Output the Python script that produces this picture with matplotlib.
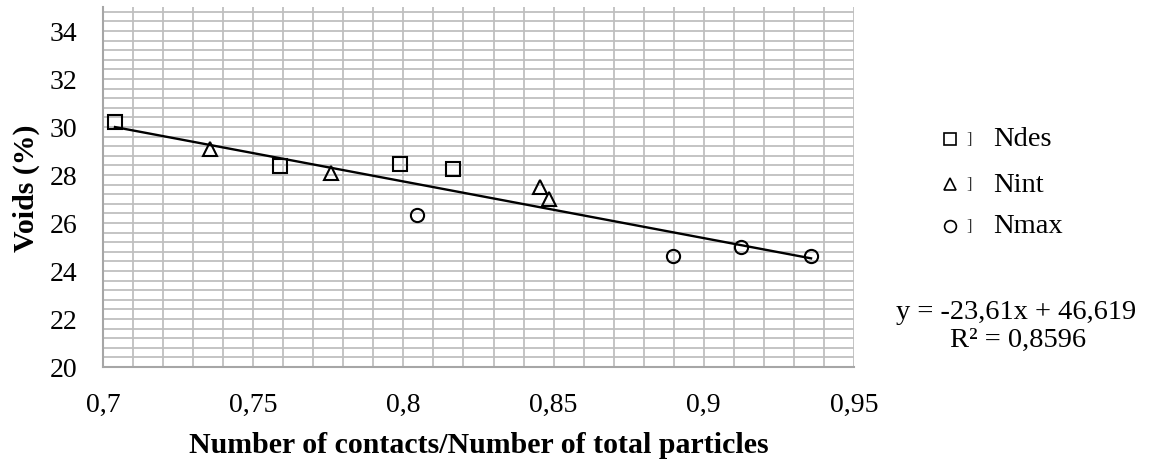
import matplotlib
matplotlib.use("Agg")
import matplotlib.pyplot as plt
import numpy as np
from matplotlib.ticker import MultipleLocator, FuncFormatter
from matplotlib.lines import Line2D

plt.rcParams['font.family'] = ['Liberation Serif', 'DejaVu Serif']

# Data
ndes_x = [0.704, 0.759, 0.799, 0.8165]
ndes_y = [30.2, 28.36, 28.44, 28.23]
nint_x = [0.7356, 0.7759, 0.8455, 0.8485]
nint_y = [29.07, 28.1, 27.5, 27.0]
nmax_x = [0.8045, 0.8897, 0.9124, 0.9357]
nmax_y = [26.35, 24.64, 25.0, 24.64]
series_names = ["Ndes", "Nint", "Nmax"]
trend_slope = -23.61
trend_intercept = 46.619
equation_text = "y = -23,61x + 46,619"
r2_text = "R² = 0,8596"
x_label = "Number of contacts/Number of total particles"
y_label = "Voids (%)"

fig = plt.figure(figsize=(11.49, 4.6), dpi=100)
ax = fig.add_axes([103/1149, 1 - 368/460, (854-103)/1149, (368-8)/460])

ax.set_xlim(0.7, 0.95)
ax.set_ylim(20, 35)
ax.xaxis.set_major_locator(MultipleLocator(0.05))
ax.xaxis.set_minor_locator(MultipleLocator(0.01))
ax.yaxis.set_major_locator(MultipleLocator(2))
ax.yaxis.set_minor_locator(MultipleLocator(0.4))

def comma_fmt(v, pos):
    s = f"{v:.2f}".rstrip('0').rstrip('.')
    return s.replace('.', ',')
ax.xaxis.set_major_formatter(FuncFormatter(comma_fmt))
ax.yaxis.set_major_formatter(FuncFormatter(lambda v, p: f"{int(round(v))}"))

grid_c = '#BFBFBF'
ax.grid(True, which='both', color=grid_c, linewidth=1.3)
ax.set_axisbelow(True)
ax.tick_params(which='both', length=0, labelsize=20, colors='black')
ax.tick_params(axis='x', pad=18)
ax.tick_params(axis='y', pad=18.5)
for s in ['top', 'right']:
    ax.spines[s].set_visible(False)
for s in ['left', 'bottom']:
    ax.spines[s].set_color('#A6A6A6')
    ax.spines[s].set_linewidth(1.5)

ms = 9.5
mew = 1.5
ax.plot(ndes_x, ndes_y, ls='none', marker='s', ms=ms, mfc='none', mec='black', mew=mew, zorder=3)
ax.plot(nint_x, nint_y, ls='none', marker='^', ms=ms + 1, mfc='none', mec='black', mew=mew, zorder=3)
ax.plot(nmax_x, nmax_y, ls='none', marker='o', ms=ms, mfc='none', mec='black', mew=mew, zorder=3)

all_x = np.array(ndes_x + nint_x + nmax_x)
tx = np.array([all_x.min(), all_x.max()])
ax.plot(tx, trend_slope * tx + trend_intercept, color='black', lw=1.7, zorder=2)

ax.set_xlabel(x_label, fontsize=21.5, fontweight='bold', labelpad=10)
ax.set_ylabel(y_label, fontsize=21.5, fontweight='bold', labelpad=7)

# Legend (manual)
markers = ['s', '^', 'o']
leg_y = [140, 185, 227]
for name, mk, yy in zip(series_names, markers, leg_y):
    fy = 1 - yy / 460
    fig.add_artist(Line2D([950/1149], [fy], marker=mk, ms=8.5, mfc='none', mec='black',
                          mew=1.2, ls='none', transform=fig.transFigure))
    fig.text(966/1149, fy, "]", fontsize=12, va='center', ha='left', color='#333333')
    fig.text(993/1149, fy, name, fontsize=20.5, va='center', ha='left')

fig.text(1016/1149, 1 - 313/460, equation_text, fontsize=20.5, ha='center', va='center')
fig.text(1018/1149, 1 - 340/460, r2_text, fontsize=20.5, ha='center', va='center')

fig.savefig("out.png", dpi=100)
